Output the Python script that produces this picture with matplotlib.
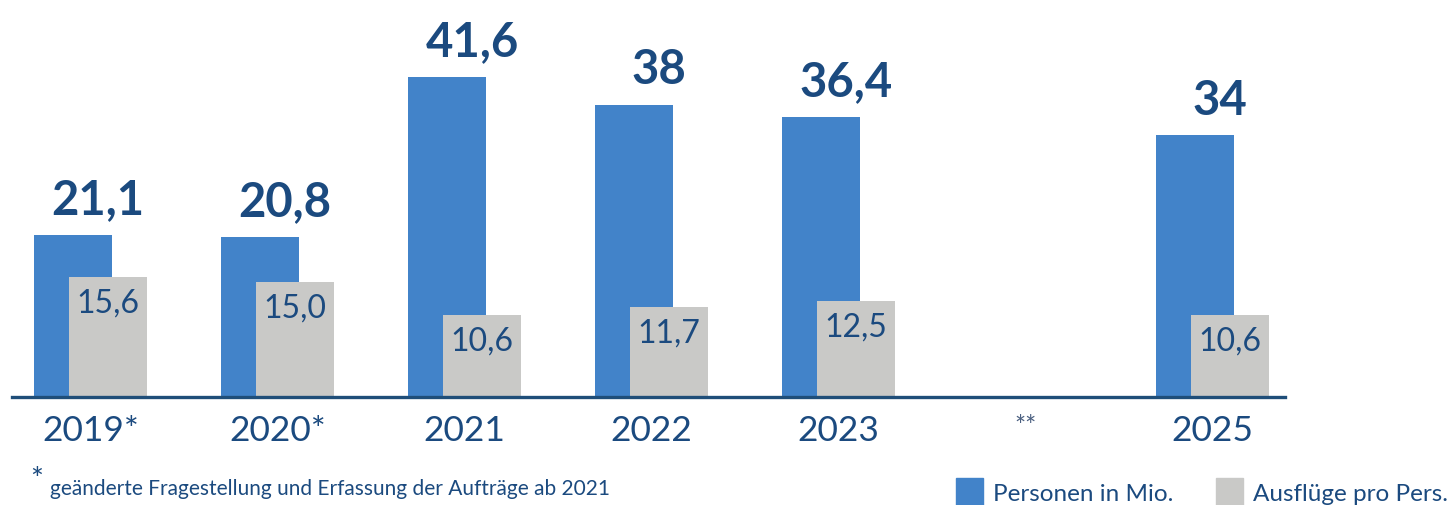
import matplotlib.pyplot as plt
from matplotlib.patches import Patch

# values
years = ['2019*', '2020*', '2021', '2022', '2023', '**', '2025']
personen = [21.1, 20.8, 41.6, 38, 36.4, None, 34]  # Personen in Mio.
ausfluege = [15.6, 15.0, 10.6, 11.7, 12.5, None, 10.6]  # Ausflüge pro Pers.

blue = '#4283C9'
grey = '#C9C9C7'
navy = '#1B4A7F'

plt.rcParams['font.family'] = ['Lato', 'DejaVu Sans']

fig = plt.figure(figsize=(14.47, 5.05), dpi=100)
ax = fig.add_axes([0, 108 / 505, 1, 397 / 505])

w = 0.417
off = 0.094
for i, (p, a) in enumerate(zip(personen, ausfluege)):
    if p is None:
        continue
    ax.bar(i - off, p, width=w, color=blue, zorder=2)
    ax.bar(i + off, a, width=w, color=grey, zorder=3)
    ptxt = f'{p:g}'.replace('.', ',')
    ax.text(i + 0.04, p + 2.7, ptxt, ha='center', va='baseline',
            fontsize=34, fontweight='bold', color=navy)
    ax.text(i + off, a - 1.5, f'{a:.1f}'.replace('.', ','), ha='center', va='top',
            fontsize=23, color=navy, zorder=4)

# baseline
ax.plot([-0.42, 6.39], [0, 0], color='#1F4E79', lw=2.4, clip_on=False, zorder=5)

ax.set_xlim(-0.484, 7.254)
ax.set_ylim(0, 51.6)
ax.set_xticks(range(len(years)))
ax.set_xticklabels(years)
for lab in ax.get_xticklabels():
    if lab.get_text() == '**':
        lab.set_fontsize(19)
        lab.set_color('#4A5F80')
    else:
        lab.set_fontsize(25.5)
        lab.set_color(navy)
ax.tick_params(axis='x', length=0, pad=13)
ax.set_yticks([])
for s in ax.spines.values():
    s.set_visible(False)
ax.patch.set_alpha(0)

# footnote
fig.text(30 / 1447, 1 - 466 / 505, '*', fontsize=22, color=navy, va='top')
fig.text(50 / 1447, 1 - 489 / 505, 'geänderte Fragestellung und Erfassung der Aufträge ab 2021',
         fontsize=15, color=navy, va='center')

# legend
handles = [Patch(color=blue, label='Personen in Mio.'),
           Patch(color=grey, label='Ausflüge pro Pers.')]
fig.legend(handles=handles, loc='center right', bbox_to_anchor=(1448 / 1447, 1 - 493 / 505),
           ncol=2, frameon=False, fontsize=17.5, handlelength=1.1, handleheight=1.5,
           handletextpad=0.42, columnspacing=1.75, labelcolor=navy, borderaxespad=0.0,
           borderpad=0.0)

fig.savefig('out.png', dpi=100)
